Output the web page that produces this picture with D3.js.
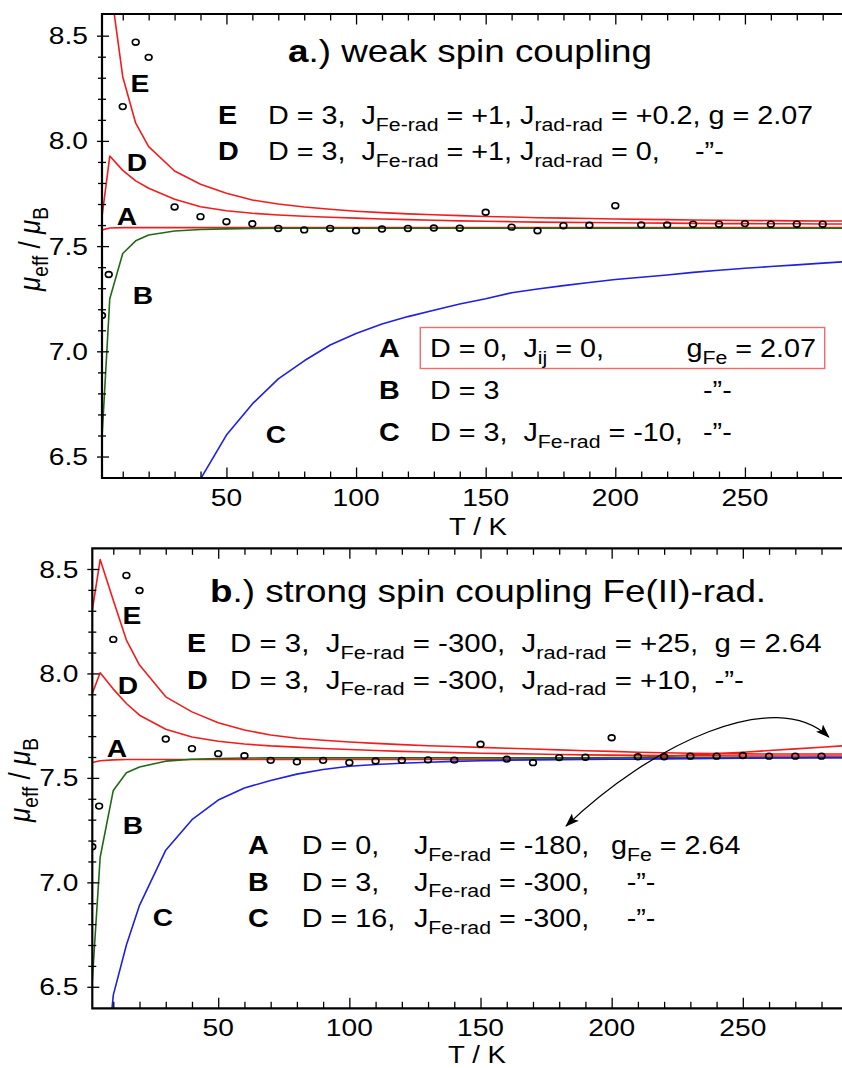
<!DOCTYPE html>
<html><head><meta charset="utf-8">
<script src="https://cdn.jsdelivr.net/npm/d3@7"></script>
<style>
html,body{margin:0;padding:0;background:#fff;}
svg{display:block;font-family:"Liberation Sans",Arial,Helvetica,sans-serif;}
</style></head><body>
<svg id="fig" width="842" height="1068"></svg>
<script>
// Temperature grid of the simulated curves (K)
const T_calc = [2,5,10,15,20,30,40,50,60,70,80,90,100,110,120,130,140,150,160,170,180,190,200,210,220,230,240,250,260,270,280,290,300];

// Measured effective moment (same data set in both panels)
const T_exp  = [2,4.6,10,15,20,30,40,50,60,70,80,90,100,110,120,130,140,150,160,170,180,190,200,210,220,230,240,250,260,270,280];
const mu_exp = [7.170,7.365,8.163,8.469,8.397,7.686,7.640,7.616,7.606,7.584,7.577,7.584,7.573,7.581,7.584,7.586,7.585,7.661,7.590,7.573,7.597,7.599,7.692,7.601,7.601,7.604,7.604,7.607,7.604,7.604,7.604];

// Panel a: weak spin coupling
const a_A = [7.577,7.586,7.588,7.588,7.588,7.588,7.588,7.588,7.588,7.588,7.588,7.588,7.588,7.588,7.588,7.588,7.588,7.588,7.588,7.588,7.588,7.588,7.588,7.588,7.588,7.588,7.588,7.588,7.588,7.588,7.588,7.588,7.588];
const a_B = [6.59,7.25,7.465,7.525,7.553,7.572,7.579,7.582,7.584,7.585,7.585,7.585,7.585,7.585,7.585,7.585,7.585,7.585,7.585,7.585,7.585,7.585,7.585,7.585,7.585,7.585,7.585,7.585,7.585,7.585,7.585,7.585,7.585];
const a_C = [4.2,4.6,5.0,5.3,5.55,5.92,6.393,6.602,6.750,6.869,6.955,7.030,7.085,7.130,7.165,7.195,7.225,7.250,7.278,7.296,7.312,7.327,7.341,7.352,7.363,7.375,7.385,7.395,7.403,7.411,7.419,7.427,7.434];
const a_D = [7.640,7.928,7.860,7.810,7.775,7.723,7.687,7.668,7.656,7.648,7.642,7.637,7.633,7.629,7.626,7.623,7.620,7.618,7.616,7.614,7.613,7.612,7.611,7.610,7.609,7.608,7.607,7.607,7.606,7.606,7.605,7.605,7.604];
const a_E = [9.20,8.76,8.305,8.084,7.973,7.857,7.794,7.751,7.719,7.700,7.686,7.675,7.666,7.659,7.653,7.649,7.645,7.641,7.638,7.635,7.633,7.631,7.629,7.627,7.626,7.624,7.623,7.622,7.621,7.620,7.619,7.619,7.618];

// Panel b: strong Fe(II)-radical coupling
const b_A = [7.574,7.582,7.586,7.588,7.588,7.588,7.588,7.588,7.588,7.588,7.588,7.588,7.588,7.588,7.588,7.588,7.588,7.588,7.589,7.590,7.591,7.593,7.595,7.598,7.603,7.609,7.616,7.623,7.631,7.639,7.647,7.655,7.663];
const b_B = [6.53,7.12,7.44,7.525,7.552,7.580,7.589,7.593,7.595,7.596,7.596,7.596,7.596,7.596,7.596,7.596,7.596,7.596,7.596,7.596,7.596,7.596,7.597,7.597,7.597,7.597,7.597,7.597,7.597,7.597,7.597,7.597,7.597];
const b_C = [5.0,5.8,6.46,6.70,6.89,7.154,7.300,7.394,7.452,7.487,7.518,7.540,7.556,7.564,7.570,7.575,7.579,7.582,7.584,7.586,7.587,7.588,7.589,7.590,7.591,7.592,7.593,7.594,7.595,7.596,7.597,7.597,7.598];
const b_D = [7.904,8.003,7.925,7.856,7.800,7.733,7.696,7.675,7.662,7.653,7.647,7.641,7.636,7.631,7.627,7.624,7.621,7.618,7.616,7.614,7.612,7.610,7.609,7.608,7.607,7.606,7.606,7.605,7.605,7.605,7.605,7.605,7.605];
const b_E = [8.303,8.545,8.350,8.160,8.040,7.888,7.816,7.764,7.729,7.705,7.690,7.680,7.672,7.665,7.659,7.654,7.650,7.646,7.642,7.638,7.634,7.630,7.627,7.623,7.620,7.618,7.616,7.615,7.614,7.614,7.614,7.614,7.615];

// Axis ticks
const xMajor = [50,100,150,200,250];
const xMinor = [10,20,30,40,60,70,80,90,110,120,130,140,160,170,180,190,210,220,230,240,260,270,280];
const yMajor = [6.5,7.0,7.5,8.0,8.5];
const yMinor = [6.6,6.7,6.8,6.9,7.1,7.2,7.3,7.4,7.6,7.7,7.8,7.9,8.1,8.2,8.3,8.4];

// Double-headed annotation arrow in panel b (Bezier points, data units)
const arrowT  = [182.6, 214.6, 262.2, 282.8];
const arrowMu = [7.269, 7.657, 7.944, 7.695];

// Texts
const titleA = "*{a}.) weak spin coupling";
const titleB = "*{b}.) strong spin coupling Fe(II)-rad.";
const legA = {
  E: "D = 3,  J_{Fe-rad} = +1, J_{rad-rad} = +0.2, g = 2.07",
  D: "D = 3,  J_{Fe-rad} = +1, J_{rad-rad} = 0,",
  A: "D = 0,  J_{ij} = 0,",
  B: "D = 3",
  C: "D = 3,  J_{Fe-rad} = -10,"
};
const legB = {
  E: "D = 3,  J_{Fe-rad} = -300,  J_{rad-rad} = +25,  g = 2.64",
  D: "D = 3,  J_{Fe-rad} = -300,  J_{rad-rad} = +10,  -”-",
  A: ["D = 0,", "J_{Fe-rad} = -180,"],
  B: ["D = 3,", "J_{Fe-rad} = -300,"],
  C: ["D = 16,", "J_{Fe-rad} = -300,"]
};
const ditto = "-”-";
const yLabel = "%{μ}_{eff} / %{μ}_{B}";
const xLabel = "T / K";

const COL = {A:"#f21c1c", B:"#1f6a16", C:"#1f1fe6", D:"#f21c1c", E:"#f21c1c"};
const SX = 1.15;   // horizontal glyph stretch of all lettering
const svg = d3.select("#fig");

// text with _{sub}, *{bold}, %{italic} markup
function txt(g, x, y, str, o = {}) {
  const size = o.size || 25;
  const t = g.append("text")
    .attr("transform", `translate(${x},${y}) scale(${SX},1)` + (o.rot ? ` rotate(${o.rot})` : ""))
    .attr("font-size", size)
    .attr("text-anchor", o.anchor || "start")
    .attr("font-weight", o.bold ? "bold" : null)
    .attr("fill", "#000")
    .style("white-space", "pre");
  const re = /([_*%])\{([^}]*)\}/g;
  const parts = []; let last = 0, m;
  while ((m = re.exec(str))) {
    if (m.index > last) parts.push({t: str.slice(last, m.index)});
    parts.push({t: m[2], k: m[1]});
    last = re.lastIndex;
  }
  if (last < str.length) parts.push({t: str.slice(last)});
  const sh = size * 0.27;
  let down = false;
  parts.forEach(p => {
    const s = t.append("tspan").text(p.t);
    if (p.k === "_") { s.attr("font-size", size * 0.74); if (!down) { s.attr("dy", sh); down = true; } }
    else {
      if (down) { s.attr("dy", -sh); down = false; }
      if (p.k === "*") s.attr("font-weight", "bold");
      if (p.k === "%") s.attr("font-style", "italic");
    }
  });
  return t;
}

function panel(p) {
  const x = d3.scaleLinear().domain(p.xd).range(p.xr);
  const y = d3.scaleLinear().domain(p.yd).range(p.yr);
  const [x0, x1] = p.xr, [yb, yt] = p.yr;
  const g = svg.append("g");

  const cid = "clip-" + p.id;
  svg.append("clipPath").attr("id", cid).append("rect")
    .attr("x", x0).attr("y", yt).attr("width", x1 - x0 + 2).attr("height", yb - yt);
  const plot = g.append("g").attr("clip-path", `url(#${cid})`);

  const line = d3.line().x((d, i) => x(T_calc[i])).y(d => y(d));
  ["A", "E", "D", "B", "C"].forEach(k => {
    plot.append("path").attr("d", line(p.s[k]))
      .attr("fill", "none").attr("stroke", COL[k]).attr("stroke-width", 1.6)
      .attr("stroke-linejoin", "round");
  });

  plot.selectAll("ellipse").data(T_exp).join("ellipse")
    .attr("cx", d => x(d)).attr("cy", (d, i) => y(mu_exp[i]))
    .attr("rx", 3.4).attr("ry", 2.9)
    .attr("fill", "none").attr("stroke", "#000").attr("stroke-width", 1.6);

  // tick marks
  const noDomain = s => s.select(".domain").remove();
  const tk = s => s.selectAll(".tick line").attr("stroke", "#000").attr("stroke-width", 1.3);
  g.append("g").attr("transform", `translate(0,${yb})`)
    .call(d3.axisBottom(x).tickValues(xMinor).tickSizeInner(-6.5).tickSizeOuter(0).tickFormat(""))
    .call(noDomain).call(tk);
  g.append("g").attr("transform", `translate(0,${yb})`)
    .call(d3.axisBottom(x).tickValues(xMajor).tickSizeInner(-10.5).tickSizeOuter(0).tickFormat(""))
    .call(noDomain).call(tk);
  g.append("g").attr("transform", `translate(0,${yt})`)
    .call(d3.axisTop(x).tickValues(xMinor).tickSizeInner(-6.5).tickSizeOuter(0).tickFormat(""))
    .call(noDomain).call(tk);
  g.append("g").attr("transform", `translate(0,${yt})`)
    .call(d3.axisTop(x).tickValues(xMajor).tickSizeInner(-10.5).tickSizeOuter(0).tickFormat(""))
    .call(noDomain).call(tk);
  g.append("g").attr("transform", `translate(${x0},0)`)
    .call(d3.axisLeft(y).tickValues(yMinor).tickSizeInner(4).tickSizeOuter(0).tickFormat(""))
    .call(noDomain).call(tk).call(s => s.selectAll(".tick line").attr("x1", 4));
  g.append("g").attr("transform", `translate(${x0},0)`)
    .call(d3.axisLeft(y).tickValues(yMajor).tickSizeInner(5).tickSizeOuter(0).tickFormat(""))
    .call(noDomain).call(tk).call(s => s.selectAll(".tick line").attr("x1", 7));

  // frame (right side lies outside the figure)
  g.append("path")
    .attr("d", `M${x1 + 2},${yt}H${x0}V${yb}H${x1 + 2}`)
    .attr("fill", "none").attr("stroke", "#000").attr("stroke-width", 2.2);

  // tick labels
  yMajor.forEach(v => txt(g, x0 - 14, y(v) + 8.6, v.toFixed(1), {anchor: "end", size: 24.5}));
  xMajor.forEach(v => txt(g, x(v), yb + 28, String(v), {anchor: "middle", size: 24.5}));

  // axis titles
  txt(g, p.xl[0], p.xl[1], xLabel, {anchor: "middle", size: 24});
  txt(g, p.yl[0], p.yl[1], yLabel, {anchor: "middle", size: 26, rot: -90});

  // curve letters
  Object.entries(p.cl).forEach(([k, c]) => txt(g, c[0], c[1] + 8.8, k, {anchor: "middle", bold: true, size: 24.5}));

  return {g, x, y};
}

const pa = panel({
  id: "a", xd: [2, 287.6], xr: [102, 842.4], yd: [6.398, 8.603], yr: [478, 14],
  s: {A: a_A, B: a_B, C: a_C, D: a_D, E: a_E},
  xl: [478, 535], yl: [39.5, 249],
  cl: {E: [140, 83], D: [137, 162], A: [127, 216], B: [143, 295], C: [276, 434]}
});
const pb = panel({
  id: "b", xd: [2, 288], xr: [92.3, 842.5], yd: [6.397, 8.599], yr: [1008.3, 548.3],
  s: {A: b_A, B: b_B, C: b_C, D: b_D, E: b_E},
  xl: [477, 1063], yl: [29.5, 780],
  cl: {E: [132, 615], D: [128, 685], A: [117, 748], B: [133, 825], C: [163, 917]}
});

// ---- panel a annotations
const LS = 25;
txt(pa.g, 288, 61.7, titleA, {size: 32});
txt(pa.g, 218, 124, "E", {bold: true, size: LS});
txt(pa.g, 268, 124, legA.E, {size: LS});
txt(pa.g, 218, 160, "D", {bold: true, size: LS});
txt(pa.g, 268, 160, legA.D, {size: LS});
txt(pa.g, 695, 160, ditto, {size: LS});
pa.g.append("rect").attr("x", 420.3).attr("y", 327.5).attr("width", 404.4).attr("height", 41)
  .attr("fill", "none").attr("stroke", "#f26a6a").attr("stroke-width", 1.4);
txt(pa.g, 379, 357, "A", {bold: true, size: LS});
txt(pa.g, 430, 357, legA.A, {size: LS});
txt(pa.g, 686.5, 357, "g_{Fe} = 2.07", {size: LS});
txt(pa.g, 379, 399, "B", {bold: true, size: LS});
txt(pa.g, 430, 399, legA.B, {size: LS});
txt(pa.g, 703, 399, ditto, {size: LS});
txt(pa.g, 379, 441, "C", {bold: true, size: LS});
txt(pa.g, 430, 441, legA.C, {size: LS});
txt(pa.g, 703, 441, ditto, {size: LS});

// ---- panel b annotations
const LSB = 25.6;
txt(pb.g, 210, 601.7, titleB, {size: 32});
txt(pb.g, 187, 652, "E", {bold: true, size: LS});
txt(pb.g, 230, 652, legB.E, {size: LSB});
txt(pb.g, 187, 688.5, "D", {bold: true, size: LS});
txt(pb.g, 230, 688.5, legB.D, {size: LSB});
[["A", 854], ["B", 890.5], ["C", 927]].forEach(([k, yy]) => {
  txt(pb.g, 248, yy, k, {bold: true, size: LS});
  txt(pb.g, 301.7, yy, legB[k][0], {size: LS});
  txt(pb.g, 414, yy, legB[k][1], {size: LS});
});
txt(pb.g, 611, 854, "g_{Fe} = 2.64", {size: LS});
txt(pb.g, 626.7, 890.5, ditto, {size: LS});
txt(pb.g, 626.7, 927, ditto, {size: LS});

// arrow linking the A parameters to the rising curve
const defs = svg.append("defs");
defs.append("marker").attr("id", "head").attr("viewBox", "0 0 14 10")
  .attr("refX", 13).attr("refY", 5).attr("markerWidth", 14).attr("markerHeight", 10)
  .attr("markerUnits", "userSpaceOnUse").attr("orient", "auto-start-reverse")
  .append("path").attr("d", "M0,0 L14,5 L0,10 L3,5 Z").attr("fill", "#000");
const ap = d3.path();
ap.moveTo(pb.x(arrowT[0]), pb.y(arrowMu[0]));
ap.bezierCurveTo(pb.x(arrowT[1]), pb.y(arrowMu[1]), pb.x(arrowT[2]), pb.y(arrowMu[2]), pb.x(arrowT[3]), pb.y(arrowMu[3]));
pb.g.append("path").attr("d", ap.toString()).attr("fill", "none")
  .attr("stroke", "#000").attr("stroke-width", 1.3)
  .attr("marker-start", "url(#head)").attr("marker-end", "url(#head)");
</script>
</body></html>
